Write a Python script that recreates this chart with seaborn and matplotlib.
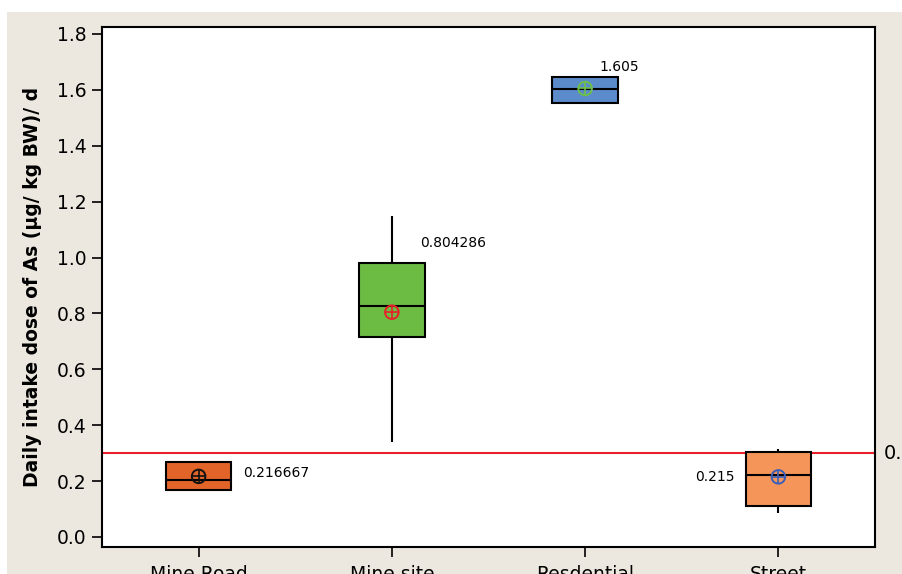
import numpy as np
import pandas as pd
import matplotlib
matplotlib.use("Agg")
import matplotlib.pyplot as plt
import matplotlib.transforms as mtransforms
from matplotlib.patches import Rectangle
import seaborn as sns

# Five-number summaries of the daily intake dose per site
sites = ["Mine Road", "Mine site", "Resdential", "Street"]
whisker_low = [0.163, 0.341, 1.552, 0.085]
q1 = [0.168, 0.716, 1.552, 0.111]
median = [0.204, 0.828, 1.603, 0.222]
q3 = [0.268, 0.979, 1.647, 0.303]
whisker_high = [0.273, 1.148, 1.647, 0.315]
means = [0.216667, 0.804286, 1.605, 0.215]
mean_labels = ["0.216667", "0.804286", "1.605", "0.215"]
reference_level = 0.3

box_colors = ["#E26428", "#6CBB43", "#5B8BCB", "#F5955A"]
mean_colors = ["#111111", "#E8202A", "#6CC04A", "#3A5FB8"]

# Long table: with five values per site the quartiles fall exactly on q1/median/q3
rows = []
for s, a, b, c, d, e in zip(sites, whisker_low, q1, median, q3, whisker_high):
    for v in (a, b, c, d, e):
        rows.append({"site": s, "value": v})
df = pd.DataFrame(rows)

sns.set_theme(style="white")
plt.rcParams["font.family"] = ["DejaVu Sans"]
plt.rcParams.update({"text.color": "black", "axes.labelcolor": "black",
                     "xtick.color": "black", "ytick.color": "black"})

fig = plt.figure(figsize=(9.02, 5.74), dpi=100, facecolor="white")
# beige panel behind the plot
fig.patches.append(Rectangle((7 / 902, 0), 1, 1 - 12 / 574, transform=fig.transFigure,
                             facecolor="#ECE8DF", edgecolor="none", zorder=-10))
ax = fig.add_axes([102 / 902, 27 / 574, 773 / 902, 520 / 574])
ax.set_facecolor("white")

sns.boxplot(data=df, x="site", y="value", hue="site", palette=box_colors,
            order=sites, hue_order=sites, width=0.34, whis=(0, 100),
            saturation=1, linecolor="black", linewidth=1.5,
            showfliers=False, showcaps=False, legend=False, ax=ax)

# reference level
ax.axhline(reference_level, color="#E8202A", lw=1.5, zorder=1)
ax.text(1 + 9 / 773, reference_level, f"{reference_level:g}", fontsize=14,
        ha="left", va="center", clip_on=False, color="black",
        transform=mtransforms.blended_transform_factory(ax.transAxes, ax.transData))

# mean markers: circle with cross
pos = np.arange(len(sites))
ax.scatter(pos, means, s=95, facecolors="none", edgecolors=mean_colors, linewidths=1.4, zorder=5)
ax.scatter(pos, means, s=95, marker="+", c=mean_colors, linewidths=1.2, zorder=5)

# mean value labels
offsets = [(45, 3, "left"), (28, 69, "left"), (14, 21, "left"), (-44, 0, "right")]
for x, m, lab, (dx, dy, ha) in zip(pos, means, mean_labels, offsets):
    ax.annotate(lab, xy=(x, m), xytext=(dx, dy), textcoords="offset pixels",
                ha=ha, va="center", fontsize=10, color="black")

ax.set_xlim(-0.5, 3.5)
ax.set_ylim(-0.036, 1.825)
ax.set_yticks(np.arange(0, 1.81, 0.2))
ax.set_yticklabels([f"{v:.1f}" for v in np.arange(0, 1.81, 0.2)])
ax.set_xlabel("")
ax.set_ylabel("Daily intake dose of As (µg/ kg BW)/ d", fontsize=13.5,
              fontweight="bold", labelpad=11)
ax.tick_params(axis="both", which="major", labelsize=13.5, direction="out",
               length=7, width=1.2, color="black", left=True, bottom=True, pad=4)
ax.tick_params(axis="x", pad=6)
for sp in ax.spines.values():
    sp.set_visible(True)
    sp.set_color("black")
    sp.set_linewidth(1.5)

fig.savefig("out.png", dpi=100, facecolor="white")
